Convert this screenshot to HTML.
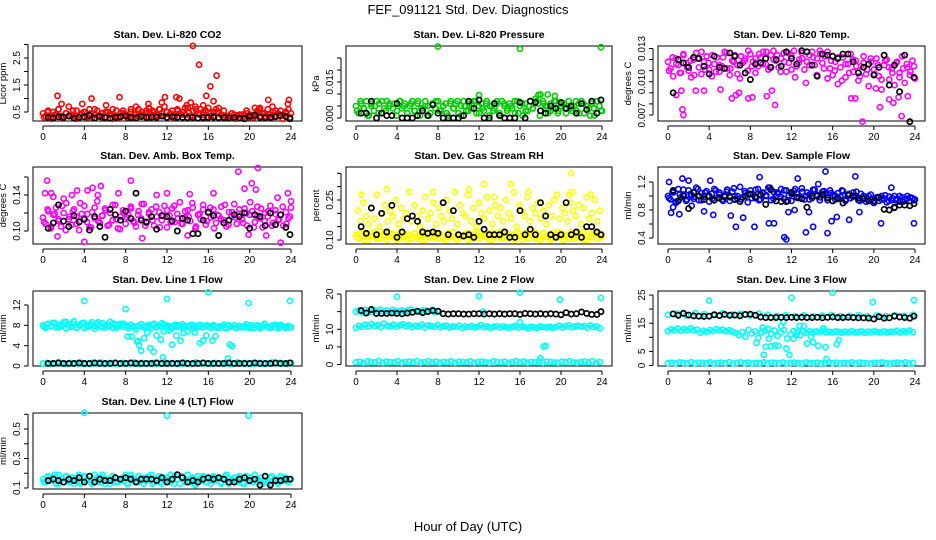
<!DOCTYPE html>
<html><head><meta charset="utf-8">
<style>
html,body{margin:0;padding:0;background:#fff;}
svg{display:block;font-family:"Liberation Sans",sans-serif;}
</style></head>
<body>
<svg id="chart" width="936" height="540" viewBox="0 0 936 540">
<text x="468" y="14" text-anchor="middle" font-size="13">FEF_091121  Std. Dev. Diagnostics</text>
<text x="468" y="531" text-anchor="middle" font-size="13">Hour of Day (UTC)</text>
</svg>
<script>
const hourTicks = [0,4,8,12,16,20,24];

const co2Red = [0.45,0.35,0.55,0.3,0.5,0.4,0.6,0.35,0.3,0.45,0.7,0.4,0.35,0.55,0.3,0.45,0.5,0.35,0.6,0.3,0.4,0.55,0.35,0.45,0.3,0.5,0.4,0.6,0.35,0.3,0.45,0.55,0.4,0.35,0.5,0.3,0.45,0.6,0.4,0.35,0.55,0.65,0.4,0.5,0.35,0.6,0.45,0.7,0.5,0.4,0.55,0.35,0.6,0.45,0.5,0.4,0.65,0.35,0.55,0.7,0.45,0.6,0.4,0.55,0.65,0.35,0.5,0.6,0.45,0.4,0.55,0.35,0.3,0.45,0.4,0.35,0.3,0.4,0.35,0.45,0.3,0.35,0.4,0.55,0.65,0.45,0.35,0.6,0.4,0.5,0.35,0.45,0.55,0.4,0.5,0.6,0.45];
const co2Red2 = [0.3,0.5,0.25,0.4,0.6,0.3,0.45,0.35,0.55,0.25,0.4,0.5,0.3,0.45,0.6,0.35,0.3,0.5,0.4,0.25,0.55,0.35,0.45,0.3,0.6,0.4,0.35,0.5,0.45,0.3,0.55,0.4,0.6,0.35,0.5,0.45,0.3,0.55,0.4,0.65,0.5,0.35,0.6,0.4,0.5,0.3,0.45,0.35,0.5,0.4,0.3,0.35,0.45,0.25,0.4,0.3,0.55,0.4,0.3,0.5,0.35,0.45,0.4,0.3,0.55,0.35,0.25,0.45,0.3];
const co2OutX = [1.4,4.7,7.4,3.8,11.8,12.9,13.2,14.5,15.1,16.2,16.8,15.8,21.8,23.8,23.7,22.2,20.5,11.5,10.2,14.3,15.5,16.5,6.1,1.8,9.0,13.9,17.0,20.9];
const co2OutY = [1.1,1.0,1.05,0.8,1.05,1.05,1.0,2.95,2.25,1.45,1.85,1.1,0.95,0.95,0.8,0.7,0.65,0.85,0.8,0.85,0.75,0.9,0.75,0.8,0.7,0.75,0.65,0.6];
const co2Black = [0.3,0.28,0.32,0.3,0.35,0.27,0.3,0.32,0.38,0.28,0.33,0.3,0.27,0.3,0.32,0.35,0.3,0.28,0.33,0.3,0.31,0.3,0.35,0.3,0.32,0.31,0.3,0.29,0.3,0.28,0.3,0.3,0.31,0.29,0.3,0.28,0.3,0.27,0.25,0.35,0.38,0.3,0.29,0.3,0.32,0.37,0.33,0.25];

const presGreen = [0.005,0.002,0.006,0.004,0.007,0.001,0.005,0.003,0.007,0.006,0.002,0.004,0.007,0.005,0.001,0.006,0.003,0.007,0.004,0.006,0.002,0.005,0.007,0.003,0.006,0.001,0.004,0.007,0.005,0.002,0.006,0.004,0.007,0.003,0.005,0.006,0.001,0.007,0.004,0.006,0.002,0.005,0.007,0.003,0.006,0.004,0.007,0.002,0.005,0.006,0.003,0.007,0.001,0.005,0.004,0.006,0.002,0.007,0.005,0.003,0.006,0.004,0.002,0.007,0.005,0.001,0.006,0.003,0.007,0.004,0.008,0.006,0.003,0.007,0.005,0.002,0.006,0.004,0.007,0.003,0.005,0.006,0.002,0.007,0.004,0.005,0.003,0.006,0.007,0.002,0.005,0.004,0.006,0.001,0.007,0.005,0.003];
const presGreen2 = [0.003,0.007,0.004,0.001,0.006,0.005,0.002,0.007,0.003,0.006,0.004,0.001,0.007,0.005,0.002,0.006,0.003,0.007,0.004,0.005,0.001,0.006,0.007,0.003,0.005,0.002,0.006,0.004,0.007,0.001,0.005,0.003,0.006,0.007,0.002,0.004,0.006,0.005,0.003,0.007,0.001,0.006,0.004,0.005,0.007,0.002,0.006,0.003,0.005,0.004,0.007,0.001,0.006,0.005,0.003,0.007,0.002,0.006,0.004,0.005,0.003,0.007,0.002,0.006,0.005,0.001,0.004,0.007,0.003];
const presOutX = [8.0,16.0,23.9,12.0,18.0,18.7,19.4,17.8];
const presOutY = [0.0298,0.0288,0.0295,0.0095,0.0098,0.0098,0.0092,0.0096];
const presBlack = [0.002,0.002,0.007,0.0,0.002,0.001,0.001,0.006,0.0,0.0,0.0,0.001,0.003,0.001,0.0055,0.002,0.0,0.0,0.0,0.0,0.001,0.007,0.004,0.0075,0.0,0.0,0.006,0.001,0.0,0.0,0.0,0.0065,0.0,0.007,0.0065,0.003,0.002,0.005,0.004,0.0065,0.004,0.005,0.002,0.006,0.0035,0.007,0.002,0.0075];

const tempMag = [0.0118,0.0112,0.0105,0.0121,0.0115,0.0108,0.0124,0.0117,0.0110,0.0104,0.0120,0.0126,0.0113,0.0107,0.0118,0.0123,0.0111,0.0105,0.0116,0.0122,0.0109,0.0114,0.0127,0.0112,0.0106,0.0119,0.0124,0.0115,0.0103,0.0117,0.0121,0.0110,0.0125,0.0118,0.0108,0.0114,0.0122,0.0127,0.0116,0.0111,0.0124,0.0128,0.0119,0.0113,0.0121,0.0126,0.0109,0.0117,0.0123,0.0128,0.0114,0.0120,0.0126,0.0111,0.0118,0.0124,0.0127,0.0115,0.0121,0.0128,0.0117,0.0123,0.0127,0.0112,0.0106,0.0118,0.0098,0.0113,0.0122,0.0104,0.0116,0.0125,0.0109,0.0119,0.0101,0.0114,0.0123,0.0107,0.0096,0.0118,0.0111,0.0121,0.0105,0.0093,0.0115,0.0120,0.0102,0.0112,0.0097,0.0118,0.0108,0.0123,0.0099,0.0113,0.0106,0.0119,0.0103];
const tempMag2 = [0.0110,0.0122,0.0116,0.0108,0.0125,0.0113,0.0119,0.0106,0.0121,0.0127,0.0111,0.0117,0.0124,0.0109,0.0115,0.0122,0.0126,0.0112,0.0118,0.0107,0.0123,0.0119,0.0128,0.0114,0.0121,0.0125,0.0116,0.0127,0.0113,0.0120,0.0124,0.0109,0.0118,0.0126,0.0111,0.0104,0.0117,0.0121,0.0099,0.0115,0.0122,0.0106,0.0125,0.0112,0.0103,0.0119,0.0110,0.0122,0.0101,0.0116,0.0108,0.0120,0.0114,0.0105,0.0117,0.0111,0.0121,0.0107,0.0115,0.0102,0.0119,0.0113,0.0108,0.0117,0.0104,0.0112,0.0116,0.0109,0.0114];
const tempOutX = [0.8,1.3,1.5,1.4,2.7,3.5,5.1,6.2,6.6,6.9,7.8,8.2,9.6,10.1,10.4,17.8,18.2,18.9,20.2,20.6,21.5,21.9,22.7,23.3,23.5,22.4];
const tempOutY = [0.0088,0.0092,0.0070,0.0075,0.0092,0.0092,0.0093,0.0085,0.0088,0.0090,0.0085,0.0086,0.0087,0.0092,0.0079,0.0085,0.0085,0.0064,0.0094,0.0077,0.0084,0.0081,0.0069,0.0087,0.0064,0.0086];
const tempBlack = [0.0090,0.0120,0.0117,0.0113,0.0122,0.0121,0.0114,0.0107,0.0123,0.0113,0.0112,0.0126,0.0123,0.0115,0.0108,0.0102,0.0116,0.0117,0.0121,0.0113,0.0120,0.0114,0.0127,0.0121,0.0116,0.0128,0.0127,0.0115,0.0105,0.0125,0.0124,0.0123,0.0121,0.0125,0.0125,0.0118,0.0108,0.0113,0.0116,0.0106,0.0113,0.0124,0.0097,0.0115,0.0091,0.0124,0.0064,0.0104];

const boxMag = [0.115,0.108,0.122,0.103,0.118,0.126,0.111,0.105,0.120,0.131,0.113,0.107,0.124,0.116,0.101,0.119,0.128,0.110,0.104,0.121,0.114,0.133,0.109,0.117,0.125,0.106,0.120,0.112,0.129,0.103,0.116,0.123,0.108,0.118,0.127,0.111,0.105,0.122,0.114,0.130,0.109,0.119,0.124,0.106,0.116,0.121,0.112,0.128,0.104,0.117,0.125,0.110,0.119,0.132,0.108,0.115,0.123,0.111,0.126,0.103,0.118,0.113,0.129,0.107,0.120,0.115,0.124,0.109,0.117,0.127,0.112,0.105,0.121,0.116,0.130,0.108,0.119,0.113,0.125,0.106,0.118,0.122,0.110,0.127,0.114,0.104,0.120,0.116,0.128,0.109,0.123,0.112,0.118,0.106,0.121,0.114,0.126];
const boxMag2 = [0.110,0.124,0.105,0.119,0.113,0.128,0.101,0.116,0.122,0.108,0.131,0.114,0.119,0.104,0.126,0.111,0.117,0.123,0.107,0.129,0.113,0.102,0.120,0.115,0.125,0.109,0.118,0.130,0.106,0.121,0.112,0.127,0.104,0.117,0.123,0.110,0.128,0.114,0.108,0.122,0.116,0.131,0.105,0.119,0.124,0.111,0.126,0.103,0.118,0.113,0.129,0.107,0.121,0.115,0.124,0.109,0.120,0.132,0.104,0.117,0.125,0.111,0.122,0.106,0.119,0.113,0.127,0.108,0.116];
const boxOutX = [0.2,0.4,0.8,1.0,1.4,2.0,2.8,3.3,4.0,4.3,4.8,5.6,5.3,7.3,8.5,9.6,11.0,12.0,14.0,14.2,16.5,18.9,19.5,19.9,20.2,20.6,20.8,21.6,22.7,23.0,23.7,24.0];
const boxOutY = [0.142,0.156,0.142,0.138,0.094,0.136,0.140,0.145,0.088,0.145,0.148,0.150,0.140,0.142,0.156,0.092,0.140,0.142,0.095,0.141,0.142,0.166,0.147,0.096,0.153,0.146,0.170,0.095,0.137,0.087,0.142,0.133];
const boxBlack = [0.103,0.109,0.129,0.111,0.105,0.117,0.110,0.113,0.101,0.116,0.105,0.093,0.124,0.118,0.112,0.122,0.114,0.142,0.112,0.110,0.116,0.102,0.117,0.116,0.111,0.100,0.114,0.112,0.097,0.097,0.112,0.121,0.117,0.095,0.109,0.112,0.118,0.116,0.120,0.103,0.118,0.116,0.106,0.120,0.107,0.118,0.104,0.096];

const rhLow = [0.12,0.105,0.115,0.13,0.11,0.10,0.125,0.115,0.105,0.12,0.11,0.13,0.10,0.115,0.125,0.11,0.12,0.105,0.13,0.115,0.10,0.12,0.11,0.125,0.105,0.115,0.12,0.10,0.13,0.11,0.115,0.125,0.105,0.12,0.11,0.10,0.125,0.115,0.13,0.105,0.12,0.11,0.115,0.125,0.10,0.12,0.11,0.13,0.105,0.115,0.12,0.11,0.125,0.10,0.115,0.12,0.13,0.105,0.11,0.125,0.115,0.12,0.10,0.13,0.11,0.115,0.125,0.105,0.12,0.11,0.13,0.115,0.10,0.125,0.11,0.12,0.105,0.13,0.115,0.11,0.125,0.10,0.12,0.115,0.13,0.105,0.11,0.125,0.12,0.10,0.115,0.13,0.11,0.12,0.105,0.125,0.115];
const rhLow2 = [0.11,0.125,0.10,0.12,0.115,0.13,0.105,0.12,0.11,0.125,0.115,0.10,0.13,0.11,0.12,0.105,0.125,0.115,0.10,0.12,0.13,0.11,0.115,0.125,0.105,0.12,0.11,0.13,0.10,0.115,0.12,0.125,0.105,0.11,0.13,0.115,0.12,0.10,0.125,0.11,0.115,0.13,0.105,0.12,0.11,0.125,0.10,0.115,0.13,0.12,0.105,0.11,0.125,0.115,0.10,0.12,0.13,0.11,0.115,0.105,0.125,0.12,0.11,0.13,0.10,0.115,0.12,0.125,0.11];
const rhHigh = [0.21,0.17,0.24,0.19,0.16,0.22,0.18,0.27,0.15,0.20,0.23,0.17,0.21,0.19,0.25,0.16,0.22,0.18,0.20,0.28,0.17,0.23,0.19,0.15,0.21,0.26,0.18,0.20,0.24,0.16,0.22,0.19,0.17,0.25,0.21,0.18,0.28,0.16,0.23,0.20,0.19,0.27,0.17,0.22,0.15,0.24,0.20,0.18,0.26,0.21,0.16,0.23,0.19,0.22,0.17,0.25,0.20,0.18,0.28,0.15,0.23,0.21,0.19,0.26,0.17,0.22,0.20,0.24,0.18,0.21,0.16,0.23,0.19,0.25,0.27,0.18,0.22,0.20,0.17,0.24,0.21,0.19,0.23,0.16,0.22,0.26,0.18,0.20,0.25,0.17,0.21];
const rhOutX = [0.5,3.0,11.0,12.5,15.1,16.8,21.0,21.1,13.5,7.5,20.8,22.9];
const rhOutY = [0.27,0.29,0.29,0.31,0.31,0.28,0.35,0.28,0.26,0.28,0.27,0.27];
const rhBlack = [0.15,0.125,0.22,0.12,0.20,0.13,0.23,0.11,0.13,0.18,0.19,0.17,0.13,0.125,0.13,0.125,0.24,0.12,0.21,0.12,0.115,0.12,0.11,0.17,0.14,0.12,0.12,0.12,0.13,0.11,0.11,0.21,0.12,0.14,0.12,0.24,0.19,0.12,0.11,0.12,0.24,0.12,0.13,0.11,0.15,0.15,0.13,0.12];

const flowBlue = [1.0,0.95,1.05,0.9,1.1,0.98,1.02,0.93,1.08,1.0,0.96,1.12,0.94,1.04,0.99,1.07,0.92,1.03,1.1,0.97,1.05,0.95,1.01,1.09,0.93,1.06,1.0,0.96,1.13,0.98,1.04,0.91,1.08,1.02,0.97,1.1,0.95,1.05,1.0,1.12,0.94,1.06,0.99,1.03,1.1,0.96,1.08,1.01,0.93,1.07,1.04,0.98,1.11,0.95,1.05,1.02,0.97,1.09,1.0,0.94,1.06,1.03,0.98,1.08,1.0,0.95,1.04,0.99,1.07,0.93,1.02,0.97,1.05,1.0,0.94,1.03,0.97,0.92,1.0,0.95,0.9,0.98,0.93,1.0,0.96,0.91,0.99,0.94,1.0,0.96,0.92,0.98,0.95,1.0,0.93,0.97,0.95];
const flowBlue2 = [0.97,1.06,0.92,1.02,1.09,0.95,1.03,0.99,1.1,0.94,1.05,1.0,0.96,1.08,1.02,0.93,1.06,0.98,1.11,1.0,0.95,1.07,1.03,0.97,1.09,0.94,1.04,1.01,1.12,0.96,1.05,0.99,1.08,0.93,1.03,1.1,0.97,1.06,1.0,0.95,1.09,1.02,0.98,1.07,0.94,1.04,1.01,0.97,1.08,0.95,1.03,0.99,1.06,0.93,1.0,0.96,1.02,0.92,0.98,0.95,1.01,0.93,0.97,0.94,1.0,0.92,0.96,0.98,0.94];
const flowOutX = [0.1,0.3,0.5,1.1,1.4,2.0,3.5,4.1,4.4,6.1,6.6,7.3,8.4,9.8,10.3,11.3,11.5,11.7,12.3,12.6,13.4,13.7,14.1,15.3,15.5,15.9,16.4,17.6,18.2,18.6,20.7,21.7,23.9,2.3,8.9,14.6,22.0];
const flowOutY = [1.2,0.76,0.84,0.74,1.25,1.22,0.78,1.22,0.73,0.72,0.56,0.69,0.56,0.61,0.61,0.41,0.38,0.77,0.8,1.25,0.48,0.77,0.56,1.35,0.47,0.64,0.7,0.66,1.28,0.77,0.61,1.12,0.61,0.86,1.27,1.17,0.83];
const flowBlack = [1.08,0.93,1.0,0.82,1.05,1.0,0.95,1.0,0.94,0.97,0.99,1.0,0.95,0.92,1.0,1.03,0.99,1.02,0.88,1.09,0.93,0.92,0.92,1.05,0.98,0.96,0.84,1.0,1.0,1.02,0.97,0.93,0.96,0.9,1.01,1.0,0.97,0.96,0.93,0.93,0.98,0.81,0.8,0.84,0.87,0.87,0.86,0.89];

const l1High = [8.0,7.5,8.3,7.8,8.5,7.6,8.1,7.9,8.6,7.4,8.2,7.7,8.8,7.6,8.0,8.4,7.5,8.1,7.9,8.6,7.3,8.2,7.8,8.4,7.6,8.0,8.7,7.5,8.2,7.9,8.3,7.7,8.0,7.4,8.1,7.8,7.2,7.9,8.2,7.6,7.8,8.1,7.5,8.3,7.7,7.9,8.4,7.6,8.0,7.8,7.5,8.1,7.7,7.9,8.2,7.6,7.8,8.0,7.5,7.9,7.7,8.1,7.6,7.8,7.9,7.5,8.0,7.7,7.8,7.6,8.1,7.4,7.9,7.7,8.0,7.5,7.8,7.6,7.9,7.7,7.5,8.0,7.6,7.8,7.4,7.9,8.2,7.7,7.5,8.0,7.6,7.8,8.1,7.7,7.5,7.9,7.6];
const l1High2 = [7.7,8.2,7.9,8.4,7.6,8.1,8.7,7.8,8.3,7.5,8.0,8.5,7.7,8.2,7.9,8.6,7.6,8.1,7.8,8.4,7.5,8.0,8.3,7.7,8.1,7.6,7.9,8.2,7.5,7.8,8.0,7.6,7.9,8.1,7.7,7.5,7.8,8.0,7.6,7.9,7.7,8.1,7.5,7.8,7.6,8.0,7.7,7.9,7.5,7.8,7.6,8.0,7.7,7.5,7.9,7.6,8.2,7.8,7.5,8.0,7.7,8.3,7.6,7.9,8.1,7.5,7.8,7.7,7.6];
const l1Low = [0.5,0.6,0.4,0.5,0.7,0.5,0.4,0.6,0.5,0.5,0.6,0.4,0.5,0.6,0.5,0.7,0.4,0.5,0.6,0.5,0.4,0.6,0.5,0.5,0.7,0.4,0.6,0.5,0.5,0.6,0.4,0.5,0.7,0.5,0.6,0.4,0.5,0.6,0.5,0.4,0.7,0.5,0.6,0.5,0.4,0.6,0.5,0.5,0.6,0.4,0.5,0.7,0.5,0.6,0.4,0.5,0.5,0.6,0.4,0.5,0.7,0.5,0.6,0.5,0.4,0.6];
const l1OutX = [4.0,8.0,12.0,16.0,19.9,23.9,8.2,8.6,9.1,9.3,9.5,9.8,10.1,10.4,10.7,11.0,11.4,11.6,12.2,12.5,12.9,13.3,13.6,14.0,14.7,15.2,15.5,15.8,16.4,16.7,18.1,18.3,17.9,9.2,11.7];
const l1OutY = [12.8,11.2,13.2,14.5,12.4,12.8,5.8,5.8,4.8,4.1,3.0,5.5,6.6,3.5,2.8,6.0,5.2,1.7,7.0,4.2,6.0,5.0,6.5,6.8,6.6,4.5,5.0,6.0,5.0,5.9,4.2,3.9,1.5,4.9,6.8];
const l1Black = [0.5,0.5,0.6,0.5,0.5,0.5,0.6,0.5,0.5,0.6,0.5,0.5,0.5,0.6,0.5,0.5,0.6,0.5,0.5,0.5,0.5,0.6,0.5,0.5,0.5,0.5,0.6,0.5,0.5,0.5,0.6,0.5,0.5,0.5,0.5,0.6,0.5,0.5,0.5,0.5,0.6,0.5,0.5,0.5,0.6,0.5,0.5,0.6];

const l2Top = [15.0,15.3,14.8,15.5,15.1,14.9,15.4,15.2,15.6,15.0,15.3,14.8,15.5,15.2,15.0,15.4,15.1,15.3,15.6,14.9,15.2,15.0,15.4,15.3,15.1,15.5,14.9,15.2];
const l2Mid = [10.4,11.0,10.7,11.3,10.8,11.5,10.9,11.2,10.6,11.6,11.0,10.8,11.3,10.7,11.1,11.4,10.9,11.2,10.6,11.0,10.8,11.3,10.5,11.1,10.9,10.7,11.2,10.6,10.9,11.0,10.5,10.8,10.7,11.0,10.4,10.8,10.6,10.9,10.5,10.7,11.2,10.6,10.8,10.4,10.7,10.9,10.5,10.8,10.6,10.4,10.7,10.9,10.5,10.8,10.6,10.3,10.7,10.5,10.4,10.8,10.6,10.5,10.7,10.4,10.6,11.0,10.5,10.9,11.1,10.6,10.8,11.0,10.7,10.9,10.5,11.1,10.6,10.8,10.3];
const l2Low = [0.6,0.8,0.5,0.9,0.7,0.6,1.0,0.5,0.8,0.7,0.6,0.9,0.5,0.7,0.8,0.6,1.0,0.5,0.7,0.9,0.6,0.8,0.5,0.7,0.6,0.9,0.5,0.8,0.7,0.6,0.9,0.5,0.7,0.8,0.6,0.5,0.9,0.7,0.6,0.8,0.5,0.7,0.9,0.6,0.8,0.5,0.7,0.6,0.9,0.5,0.8,0.7,0.6,0.5,0.8,0.7,0.9,0.6,0.5,0.7,0.8,0.6,0.9,0.5,0.7];
const l2OutX = [4.0,12.0,16.0,19.9,23.9,16.0,18.0,18.3,18.5,12.4];
const l2OutY = [19.2,19.4,20.4,18.4,18.9,12.0,1.8,5.1,5.3,15.0];
const l2Black = [15.3,14.6,15.6,14.5,14.5,14.5,14.6,14.5,14.4,14.6,14.8,15.1,14.7,15.0,15.3,15.1,14.4,14.3,14.4,14.4,14.3,14.3,14.4,14.4,14.3,14.4,14.3,14.4,14.3,14.4,14.4,14.2,14.5,14.4,14.3,14.4,14.3,14.4,14.3,14.1,14.7,14.3,14.4,14.9,14.5,14.2,14.2,15.0];

const l3Top = [18.0,18.4,17.8,18.6,18.2,17.9,18.5,18.1,18.3,17.7,18.4,18.0,17.6,17.9,17.5,17.8,17.4,17.7,17.9,17.5,17.6,17.8,17.4,17.7,17.5,17.8,17.6,18.0];
const l3Mid = [12.2,12.8,12.5,13.1,12.3,12.9,12.6,13.2,12.4,12.7,11.6,12.3,12.0,12.6,12.2,12.9,12.4,12.7,12.1,12.5,12.0,11.5,10.8,11.9,10.2,12.6,11.4,12.1,9.8,11.7,12.3,13.0,11.2,12.4,10.5,11.8,12.6,9.6,11.0,12.2,11.9,10.7,12.1,11.6,12.2,11.8,12.1,11.9,12.3,11.8,12.0,11.7,12.1,11.9,11.6,12.0,11.8,12.2,11.7,11.9,12.1,11.6,12.0,11.8,12.2,11.9,11.7,12.1,11.8,12.0,11.9,12.3,11.7,12.2,11.9,12.4,11.8];
const l3Low = [0.8,1.0,0.7,1.1,0.9,0.8,1.2,0.7,1.0,0.9,0.8,1.1,0.7,0.9,1.0,0.8,1.2,0.7,0.9,1.1,0.8,1.0,0.7,0.9,0.8,1.1,0.7,1.0,0.9,0.8,1.1,0.7,0.9,1.0,0.8,0.7,1.1,0.9,0.8,1.0,0.7,0.9,1.1,0.8,1.0,0.7,0.9,0.8,1.1,0.7,1.0,0.9,0.8,0.7,1.0,0.9,1.1,0.8,0.7,0.9,1.0,0.8,1.1,0.7,0.9];
const l3OutX = [4.0,12.0,16.0,19.9,23.9,8.6,9.3,9.5,9.8,10.0,10.4,10.7,11.0,11.5,11.8,12.2,12.8,13.2,13.5,14.1,14.6,15.1,15.3,15.4,16.4,16.6,9.2,11.2,12.5,13.9];
const l3OutY = [23.0,24.0,25.8,22.5,23.2,8.0,3.8,6.7,9.5,6.8,7.2,7.0,14.0,6.0,3.8,9.5,14.0,14.0,7.8,8.3,7.0,13.2,6.5,2.3,7.5,9.0,13.5,15.5,11.0,10.2];
const l3Black = [18.3,17.8,18.5,17.9,17.6,17.5,17.4,17.5,18.0,17.7,18.1,17.8,17.9,17.6,18.1,18.2,17.8,17.2,17.0,17.0,17.0,17.1,17.0,17.1,17.0,17.1,17.0,17.0,17.1,16.9,17.1,17.2,17.0,17.0,17.1,17.0,16.9,16.9,16.8,16.5,17.3,16.8,16.9,17.5,17.2,17.0,16.8,17.5];

const l4Cyan = [0.16,0.14,0.18,0.15,0.17,0.13,0.19,0.16,0.14,0.18,0.15,0.17,0.13,0.16,0.19,0.14,0.17,0.15,0.18,0.13,0.16,0.17,0.14,0.19,0.15,0.16,0.13,0.18,0.17,0.14,0.16,0.15,0.19,0.13,0.17,0.16,0.14,0.18,0.15,0.13,0.17,0.16,0.19,0.14,0.15,0.18,0.13,0.16,0.17,0.14,0.15,0.18,0.16,0.13,0.17,0.15,0.19,0.14,0.16,0.12,0.18,0.15,0.17,0.14,0.16,0.13,0.18,0.15,0.17,0.14,0.16,0.19,0.13,0.15,0.17,0.14,0.18,0.16,0.13,0.15,0.17,0.14,0.19,0.16,0.15,0.13,0.18,0.14,0.17,0.15,0.16,0.13,0.18,0.15,0.17,0.14,0.16];
const l4Cyan2 = [0.14,0.17,0.15,0.19,0.13,0.16,0.18,0.14,0.17,0.15,0.13,0.18,0.16,0.14,0.19,0.15,0.17,0.13,0.16,0.18,0.14,0.15,0.17,0.13,0.19,0.16,0.14,0.17,0.15,0.18,0.13,0.16,0.14,0.17,0.15,0.19,0.13,0.16,0.18,0.14,0.15,0.17,0.13,0.16,0.18,0.14,0.15,0.17,0.16,0.13,0.18,0.14,0.16,0.15,0.17,0.13,0.18,0.15,0.16,0.14,0.17,0.15,0.13,0.18,0.16,0.14,0.17,0.15,0.16];
const l4OutX = [4.0,12.0,19.9];
const l4OutY = [0.61,0.59,0.59];
const l4Black = [0.15,0.16,0.15,0.14,0.16,0.15,0.17,0.14,0.18,0.14,0.16,0.15,0.15,0.17,0.16,0.17,0.16,0.14,0.16,0.16,0.16,0.15,0.17,0.14,0.16,0.19,0.17,0.14,0.15,0.14,0.16,0.17,0.16,0.17,0.16,0.14,0.14,0.16,0.17,0.15,0.16,0.12,0.18,0.12,0.15,0.15,0.16,0.16];

const NS = 'http://www.w3.org/2000/svg';
const svg = document.getElementById('chart');
const cols = [{bx0:33,bx1:302,h0:43,h24:291},{bx0:346,bx1:612,h0:356,h24:602},{bx0:658,bx1:925,h0:668,h24:915}];
const rows = [{top:46,bot:121},{top:167,bot:244},{top:291,bot:366},{top:413,bot:489}];

function mk(tag, attrs, parent){
  const e = document.createElementNS(NS, tag);
  for (const k in attrs) e.setAttribute(k, attrs[k]);
  (parent||svg).appendChild(e);
  return e;
}

function panel(p){
  const c = cols[p.col], r = rows[p.row];
  const g = mk('g', {});
  
  
  const xs = h => c.h0 + (h/24)*(c.h24-c.h0);
  const ys = v => p.py0 + (v - p.v0)/(p.v1 - p.v0)*(p.py1 - p.py0);
  const t = mk('text', {x:(c.bx0+c.bx1)/2, y:r.top-8, 'text-anchor':'middle', 'font-size':'10.5', 'font-weight':'bold'}, g);
  t.textContent = p.title;
  
  
  const box = mk('rect', {x:c.bx0, y:r.top, width:c.bx1-c.bx0, height:r.bot-r.top, fill:'none', stroke:'#000', 'stroke-width':'1'}, g);
  
  
  const xa = mk('g', {}, g);
  
  
  mk('line', {x1:xs(0), x2:xs(24), y1:r.bot+5, y2:r.bot+5, stroke:'#000'}, xa);
  hourTicks.forEach(h => {
    mk('line', {x1:xs(h), x2:xs(h), y1:r.bot+5, y2:r.bot+9, stroke:'#000'}, xa);
    const tl = mk('text', {x:xs(h), y:r.bot+19, 'text-anchor':'middle', 'font-size':'10'}, xa);
    tl.textContent = h;
  });
  const ya = mk('g', {}, g);
  
  
  const ax = c.bx0 - 5;
  mk('line', {x1:ax, x2:ax, y1:ys(p.ticks[0]), y2:ys(p.ticks[p.ticks.length-1]), stroke:'#000'}, ya);
  p.ticks.forEach(v => {
    mk('line', {x1:ax-4, x2:ax, y1:ys(v), y2:ys(v), stroke:'#000'}, ya);
  });
  p.labels.forEach(v => {
    const yy = ys(v);
    const tl = mk('text', {x:ax-8, y:yy, 'text-anchor':'middle', 'font-size':'10', transform:`rotate(-90 ${ax-8} ${yy})`}, ya);
    tl.textContent = p.fmt(v);
  });
  const yt = mk('text', {x:c.bx0-27, y:(r.top+r.bot)/2, 'text-anchor':'middle', 'font-size':'9.5', transform:`rotate(-90 ${c.bx0-27} ${(r.top+r.bot)/2})`}, g);
  yt.textContent = p.ylab;
  
  
  const pts = mk('g', {}, g);
  
  
  const dot = (h, v, col, sw) => {
    const y = ys(v);
    if (y < r.top-3 || y > r.bot+3) return;
    mk('circle', {cx:xs(h), cy:y, r:2.6, fill:'none', stroke:col, 'stroke-width':sw}, pts);
  };
  p.series.forEach(s => {
    const n = s.length;
    s.forEach((v,i) => dot(s.start + i*(s.end - s.start)/(n-1), v, p.color, 1.6));
  });
  p.outX.forEach((h,i) => dot(h, p.outY[i], p.color, 1.6));
  p.black.forEach((v,i) => dot(0.5 + i*0.5 - (i===p.black.length-1?0.1:0), v, '#000', 1.7));
}

function span(arr, a, b){ const s = arr.slice(); s.start = a; s.end = b; return s; }

panel({name:'co2', title:'Stan. Dev. Li-820 CO2', col:0, row:0, ylab:'Licor ppm', color:'#ff0000',
  v0:0.5, v1:2.5, py0:112, py1:58, ticks:[0.5,1,1.5,2,2.5,3], labels:[0.5,1.5,2.5], fmt:v=>v.toFixed(1),
  series:[span(co2Red,0,24), span(co2Red2,0.1,23.9)], outX:co2OutX, outY:co2OutY, black:co2Black});
panel({name:'pressure', title:'Stan. Dev. Li-820 Pressure', col:1, row:0, ylab:'kPa', color:'#00cc00',
  v0:0, v1:0.015, py0:118, py1:82, ticks:[0,0.005,0.01,0.015,0.02,0.025], labels:[0,0.015], fmt:v=>v.toFixed(3),
  series:[span(presGreen,0,24), span(presGreen2,0.1,23.9)], outX:presOutX, outY:presOutY, black:presBlack});
panel({name:'li820-temp', title:'Stan. Dev. Li-820 Temp.', col:2, row:0, ylab:'degrees C', color:'#ff00ff',
  v0:0.007, v1:0.013, py0:115, py1:48.5, ticks:[0.007,0.008,0.009,0.010,0.011,0.012,0.013], labels:[0.007,0.010,0.013], fmt:v=>v.toFixed(3),
  series:[span(tempMag,0,24), span(tempMag2,0.1,23.9)], outX:tempOutX, outY:tempOutY, black:tempBlack});
panel({name:'amb-box-temp', title:'Stan. Dev. Amb. Box Temp.', col:0, row:1, ylab:'degrees C', color:'#ff00ff',
  v0:0.10, v1:0.14, py0:231, py1:195, ticks:[0.10,0.12,0.14,0.16], labels:[0.10,0.14], fmt:v=>v.toFixed(2),
  series:[span(boxMag,0,24), span(boxMag2,0.1,23.9)], outX:boxOutX, outY:boxOutY, black:boxBlack});
panel({name:'gas-stream-rh', title:'Stan. Dev. Gas Stream RH', col:1, row:1, ylab:'percent', color:'#ffff00',
  v0:0.10, v1:0.25, py0:240, py1:200, ticks:[0.10,0.15,0.20,0.25,0.30,0.35], labels:[0.10,0.25], fmt:v=>v.toFixed(2),
  series:[span(rhLow,0,24), span(rhLow2,0.1,23.9), span(rhHigh,0.2,23.8)], outX:rhOutX, outY:rhOutY, black:rhBlack});
panel({name:'sample-flow', title:'Stan. Dev. Sample Flow', col:2, row:1, ylab:'ml/min', color:'#0000ff',
  v0:0.4, v1:1.2, py0:238, py1:182, ticks:[0.4,0.6,0.8,1.0,1.2], labels:[0.4,0.8,1.2], fmt:v=>v.toFixed(1),
  series:[span(flowBlue,0,24), span(flowBlue2,0.1,23.9)], outX:flowOutX, outY:flowOutY, black:flowBlack});
panel({name:'line1-flow', title:'Stan. Dev. Line 1 Flow', col:0, row:2, ylab:'ml/min', color:'#00ffff',
  v0:0, v1:12, py0:366, py1:305, ticks:[0,4,8,12], labels:[0,4,8,12], fmt:v=>String(v),
  series:[span(l1High,0,24), span(l1High2,0.1,23.9), span(l1Low,0,24)], outX:l1OutX, outY:l1OutY, black:l1Black});
panel({name:'line2-flow', title:'Stan. Dev. Line 2 Flow', col:1, row:2, ylab:'ml/min', color:'#00ffff',
  v0:0, v1:20, py0:364.5, py1:294, ticks:[0,5,10,15,20], labels:[0,5,10,20], fmt:v=>String(v),
  series:[span(l2Top,0,8), span(l2Mid,0,23.8), span(l2Low,0,23.8)], outX:l2OutX, outY:l2OutY, black:l2Black});
panel({name:'line3-flow', title:'Stan. Dev. Line 3 Flow', col:2, row:2, ylab:'ml/min', color:'#00ffff',
  v0:0, v1:25, py0:365.5, py1:295, ticks:[0,5,10,15,20,25], labels:[0,5,15,25], fmt:v=>String(v),
  series:[span(l3Top,0,23.8), span(l3Mid,0,23.8), span(l3Low,0,23.8)], outX:l3OutX, outY:l3OutY, black:l3Black});
panel({name:'line4-flow', title:'Stan. Dev. Line 4 (LT) Flow', col:0, row:3, ylab:'ml/min', color:'#00ffff',
  v0:0.1, v1:0.5, py0:488, py1:429, ticks:[0.1,0.2,0.3,0.4,0.5,0.6], labels:[0.1,0.3,0.5], fmt:v=>v.toFixed(1),
  series:[span(l4Cyan,0,24), span(l4Cyan2,0.1,23.9)], outX:l4OutX, outY:l4OutY, black:l4Black});
</script>
</body></html>
